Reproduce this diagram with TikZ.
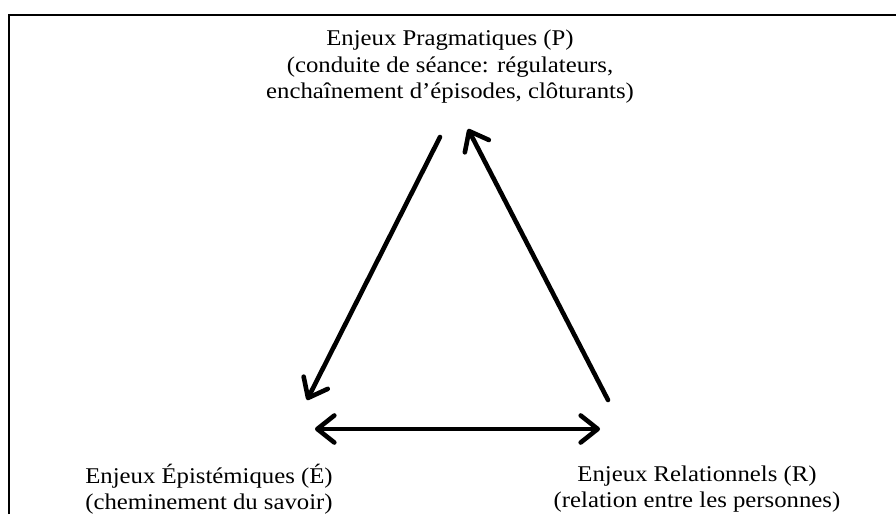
\documentclass[tikz,border=0pt]{standalone}
\usepackage{fontspec}
\setmainfont{Liberation Serif}[FakeStretch=1.1]
\usetikzlibrary{arrows.meta}

\tikzset{
  barb/.tip={Straight Barb[length=17pt,width=27pt,line cap=round,line join=round]},
  enjeu/.style={align=center,inner sep=0pt,font=\fontsize{22.5}{26.5}\selectfont},
  fleche/.style={line width=4.6pt,line cap=round}
}

\begin{document}
\begin{tikzpicture}[x=1pt,y=-1pt]
	%%%%% CADRE %%%%%
	\useasboundingbox (0,0) rectangle (896,514);
	\draw[line width=2.2pt] (9,514) -- (9,15) -- (896,15);
	
	%%%%% ENJEUX %%%%%
	\node[enjeu] (prag) at (450,67) {Enjeux Pragmatiques (P)\\(conduite de séance: régulateurs,\\enchaînement d’épisodes, clôturants)};
	\node[enjeu] (epis) at (209,489) {Enjeux Épistémiques (É)\\(cheminement du savoir)};
	\node[enjeu] (rela) at (697,489) {Enjeux Relationnels (R)\\(relation entre les personnes)};
	
	%%%%% FLECHES %%%%%
	\coordinate (pe) at (440,137);
	\coordinate (ep) at (307,400);
	\coordinate (rp) at (608,400);
	\coordinate (pr) at (468,129);
	\coordinate (er) at (315,429);
	\coordinate (re) at (600,429);
	
	\draw[fleche,-barb] (pe) -- (ep);
	\draw[fleche,-barb] (rp) -- (pr);
	\draw[fleche,barb-barb] (er) -- (re);
\end{tikzpicture}
\end{document}
